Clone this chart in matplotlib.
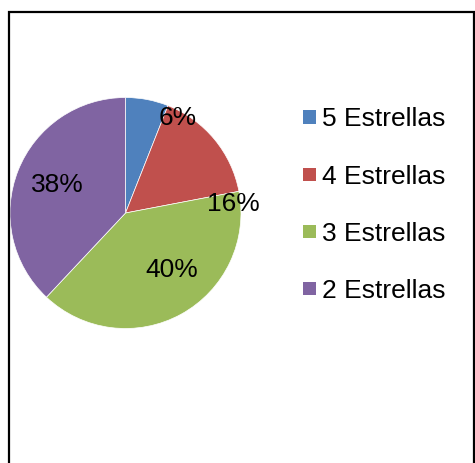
import matplotlib
matplotlib.use("Agg")
import matplotlib.pyplot as plt
from matplotlib.patches import Rectangle

categories = ["5 Estrellas", "4 Estrellas", "3 Estrellas", "2 Estrellas"]
values = [6, 16, 40, 38]
colors = ["#4F81BD", "#C0504D", "#9BBB59", "#8064A2"]

plt.rcParams['font.family'] = ['Liberation Sans', 'DejaVu Sans']

W, H = 475, 463
fig = plt.figure(figsize=(W / 100, H / 100), dpi=100)

# pie axes: center (125.5, 213) px, radius 115.5 px
cx, cy, r = 125.5, 213.0, 115.5
ax = fig.add_axes([(cx - r) / W, (H - cy - r) / H, 2 * r / W, 2 * r / H])
wedges, texts, autotexts = ax.pie(values, colors=colors, startangle=90, counterclock=False,
                                  autopct='%1.0f%%', radius=1.0,
                                  wedgeprops=dict(edgecolor='white', linewidth=0.5),
                                  textprops=dict(fontsize=19, color='black'))
ax.set_xlim(-1, 1)
ax.set_ylim(-1, 1)
ax.set_aspect('equal')
ax.axis('off')

label_pos = [(178, 118), (233, 204), (172, 270), (57, 185)]
for t, (px, py) in zip(autotexts, label_pos):
    t.set_position(((px - cx) / r, (cy - py) / r))
    t.set_ha('center')
    t.set_va('center')

# legend
leg_y = [117, 174, 231, 288]
for cat, col, y in zip(categories, colors, leg_y):
    fig.add_artist(Rectangle((303 / W, (H - y - 6.5) / H), 13 / W, 13 / H,
                             transform=fig.transFigure, facecolor=col, edgecolor='none'))
    fig.text(322 / W, (H - y) / H, cat, fontsize=19, ha='left', va='center_baseline', color='black')

# chart border
fig.add_artist(Rectangle((8.5 / W, -0.05), (474 - 8.5) / W, (H - 12) / H + 0.05,
                         transform=fig.transFigure, facecolor='none', edgecolor='black',
                         linewidth=1.6))

fig.savefig("out.png", dpi=100)
